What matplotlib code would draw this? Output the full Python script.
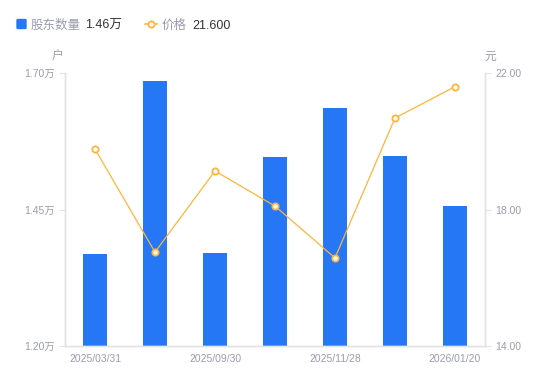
import matplotlib
matplotlib.use("Agg")
import matplotlib.pyplot as plt
from matplotlib.lines import Line2D
import numpy as np

plt.rcParams['font.family'] = ['Liberation Sans', 'Noto Sans CJK SC', 'DejaVu Sans']

dates = ["2025/03/31", "2025/06/30", "2025/09/30", "2025/10/31",
         "2025/11/28", "2025/12/31", "2026/01/20"]
holders = [1.368, 1.685, 1.371, 1.546, 1.635, 1.548, 1.456]   # 万户
price = [19.77, 16.75, 19.13, 18.10, 16.58, 20.68, 21.60]  # 元
left_ticks = [1.20, 1.45, 1.70]
right_ticks = [14.00, 18.00, 22.00]

BLUE = "#2577F5"
ORANGE = "#FFB53B"
GRAY = "#9A9CAD"
SPINE = "#E3E3E6"

fig = plt.figure(figsize=(5.5, 3.81), dpi=100)
ax = fig.add_axes([65 / 550, 35 / 381, 420 / 550, 273 / 381])
x = np.arange(len(dates))

ax.bar(x, holders, width=0.41, color=BLUE, zorder=2)
ax.set_xlim(-0.5, len(dates) - 0.5)
ax.set_ylim(left_ticks[0], left_ticks[-1])
ax.set_yticks(left_ticks)
ax.set_yticklabels([f"{v:.2f}万" for v in left_ticks])
ax.set_xticks(x[::2])
ax.set_xticklabels(dates[::2])

ax2 = ax.twinx()
ax2.plot(x, price, color=ORANGE, lw=0.9, marker="o", ms=4.5,
         mfc="white", mec=ORANGE, mew=1.3, zorder=3)
ax2.set_ylim(right_ticks[0], right_ticks[-1])
ax2.set_yticks(right_ticks)
ax2.set_yticklabels([f"{v:.2f}" for v in right_ticks])

for a in (ax, ax2):
    for s in a.spines.values():
        s.set_color(SPINE)
        s.set_linewidth(1)
    a.spines["top"].set_visible(False)
    a.tick_params(colors=SPINE, labelcolor=GRAY, labelsize=7.5, length=4, width=0.8)
ax.tick_params(axis="x", length=0, pad=6)

fig.text(58 / 550, 1 - 57 / 381, "户", color=GRAY, fontsize=8.5, ha="center", va="center")
fig.text(490 / 550, 1 - 57 / 381, "元", color=GRAY, fontsize=8.5, ha="center", va="center")

# legend row
ly = 1 - 24 / 381
ty = 1 - 26 / 381
fig.patches.append(matplotlib.patches.FancyBboxPatch(
    (17 / 550, ly - 4.5 / 381), 9 / 550, 9 / 381, boxstyle="round,pad=0,rounding_size=0.002",
    transform=fig.transFigure, color=BLUE))
fig.text(31 / 550, ty, "股东数量", color=GRAY, fontsize=9, va="center")
fig.text(85 / 550, ty, "1.46万", color="#333333", fontsize=9, va="center")
fig.lines.append(Line2D([145 / 550, 157 / 550], [ly, ly], transform=fig.transFigure,
                        color=ORANGE, lw=1.2))
fig.lines.append(Line2D([151 / 550], [ly], transform=fig.transFigure, color=ORANGE,
                        marker="o", ms=4.5, mfc="white", mew=1.3, lw=0))
fig.text(162 / 550, ty, "价格", color=GRAY, fontsize=9, va="center")
fig.text(192 / 550, ty, "21.600", color="#333333", fontsize=9, va="center")

fig.savefig("out.png", dpi=100)
